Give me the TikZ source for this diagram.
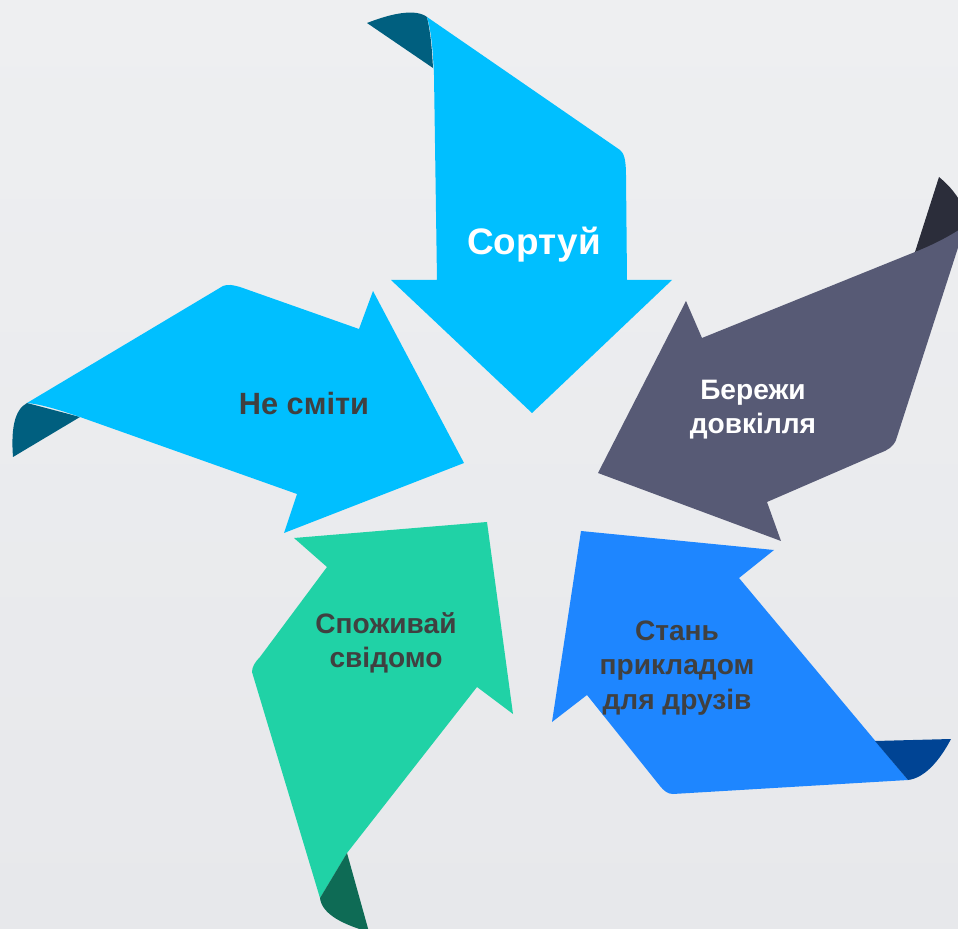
\documentclass[tikz,border=0pt]{standalone}
\usepackage{fontspec}
\setmainfont{Liberation Sans}
\definecolor{bgtop}{RGB}{238,239,241}
\definecolor{bgbot}{RGB}{231,232,235}
\definecolor{sky}{RGB}{0,191,255}
\definecolor{skydark}{RGB}{0,95,127}
\definecolor{slate}{RGB}{87,90,117}
\definecolor{slatedark}{RGB}{43,45,58}
\definecolor{azure}{RGB}{30,134,255}
\definecolor{azuredark}{RGB}{0,68,148}
\definecolor{mint}{RGB}{32,210,166}
\definecolor{mintdark}{RGB}{14,107,85}
\definecolor{txtdark}{RGB}{64,64,64}
\tikzset{
  lbl/.style={align=center, inner sep=0pt, font=\bfseries\fontsize{16}{19.5}\selectfont},
  lblwhite/.style={lbl, text=white},
  lbldark/.style={lbl, text=txtdark}
}
\begin{document}
\begin{tikzpicture}[x=0.02cm,y=-0.02cm]
\shade[top color=bgtop, bottom color=bgbot] (0,0) rectangle (958,929);
\useasboundingbox (0,0) rectangle (958,929);
\clip (0,0) rectangle (958,929);

% top arrow
\fill[skydark] (367,23) .. controls (390,14) and (415,8) .. (427,17) .. controls (431,35) and (432,50) .. (433,68) -- cycle;
\fill[sky] (427,17) -- (620,150) .. controls (624,153) and (626,160) .. (626,175) -- (627,280) -- (672,280) -- (532,413) -- (391,280) -- (437,280) -- (434,75) .. controls (433,50) and (431,30) .. (427,17) -- cycle;

% right arrow
\fill[slatedark] (915,252) -- (939,177) .. controls (950,186) and (958,196) .. (965,210) -- (965,240) -- cycle;
\fill[slate] (702,338) -- (915,252) .. controls (935,244) and (950,236) .. (965,226) -- (896,440) .. controls (893,447) and (888,450) .. (880,453) -- (767,502) -- (781,541) -- (598,473) -- (686,301) -- cycle;

% bottom-right arrow
\fill[azure] (581,531) -- (774,550) -- (739,578) -- (908,780) -- (673,794) .. controls (668,794) and (664,791) .. (660,786) -- (587,695) -- (552,722) -- cycle;
\fill[azuredark] (875,741) -- (951,739) .. controls (940,760) and (925,778) .. (908,780) -- cycle;

% bottom-left arrow
\fill[mint] (294,538) -- (487,522) -- (513,714) -- (477,687) -- (347,853) -- (320,898) -- (252,672) .. controls (252,667) and (255,662) .. (260,657) -- (327,567) -- cycle;
\fill[mintdark] (347,853) -- (369,932) .. controls (345,925) and (322,915) .. (320,898) -- cycle;

% left arrow
\fill[skydark] (80,417) -- (13,457) .. controls (11,430) and (14,410) .. (27,403) -- cycle;
\fill[sky] (27,403) -- (223,286) .. controls (228,284) and (233,285) .. (240,287) -- (359,329) -- (373,291) -- (464,463) -- (284,533) -- (297,494) -- (80,417) .. controls (60,410) and (40,404) .. (27,403) -- cycle;

% labels
\node[lblwhite, font=\bfseries\fontsize{21}{25}\selectfont] (sort) at (534,245) {Сортуй};
\node[lblwhite] (berezhy) at (753,410) {Бережи\\довкілля};
\node[lbldark] (stan) at (677,668) {Стань\\прикладом\\для друзів};
\node[lbldark] (spozh) at (386,643) {Споживай\\свідомо};
\node[lbldark, font=\bfseries\fontsize{17.5}{21}\selectfont] (nesmity) at (304,404) {Не сміти};
\end{tikzpicture}
\end{document}
